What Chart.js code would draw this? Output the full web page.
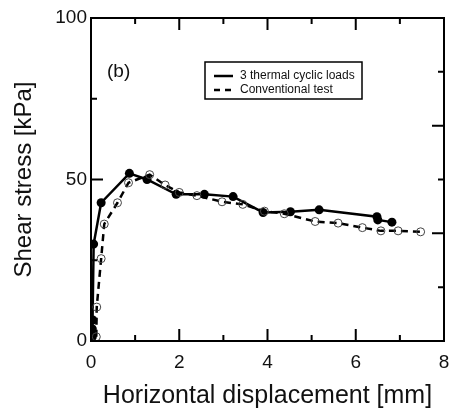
<!DOCTYPE html>
<html>
<head>
<meta charset="utf-8">
<script src="https://cdn.jsdelivr.net/npm/chart.js@4.4.1/dist/chart.umd.min.js"></script>
<style>
  html, body { margin: 0; padding: 0; background: #fff; }
  #myChart { display: block; }
</style>
</head>
<body>
<canvas id="myChart" width="452" height="410"></canvas>
<script>
// shear stress vs horizontal displacement, panel (b)
const cyclicX = [0, 0.03, 0.03, 0.04, 0.06, 0.23, 0.87, 1.27, 1.93, 2.57, 3.22, 3.9, 4.52, 5.17, 6.48, 6.5, 6.82];
const cyclicY = [0, 1.3, 3.7, 6.5, 30, 42.8, 51.9, 50, 45.4, 45.4, 44.7, 39.8, 40.0, 40.6, 38.5, 37.5, 36.8];

const convX = [0.12, 0.13, 0.23, 0.3, 0.6, 0.85, 1.33, 1.68, 2.0, 2.4, 2.97, 3.44, 3.93, 4.38, 5.08, 5.6, 6.15, 6.57, 6.96, 7.47];
const convY = [1.3, 10.5, 25.5, 36.2, 42.8, 49.0, 51.5, 48.3, 46.0, 45.0, 43.1, 42.3, 40.2, 39.4, 37.0, 36.5, 35.1, 34.1, 34.1, 33.8];

const seriesNames = ["3 thermal cyclic loads", "Conventional test"];
const xLabels = [0, 2, 4, 6, 8];     // labelled x ticks
const yLabels = [0, 50, 100];        // labelled y ticks
const xTitle = "Horizontal displacement [mm]";
const yTitle = "Shear stress [kPa]";
const panelTag = "(b)";

const FONT = "'Liberation Sans', Arial, sans-serif";

function toPoints(xs, ys) {
  let pts = [];
  for (let i = 0; i < xs.length; i++) {
    pts.push({ x: xs[i], y: ys[i] });
  }
  return pts;
}

// frame, inward ticks, titles and the boxed legend
const framePlugin = {
  id: "frame",
  afterDraw(chart) {
    const ctx = chart.ctx;
    const a = chart.chartArea;
    const sx = chart.scales.x;
    const sy = chart.scales.y;
    const sy2 = chart.scales.y2;
    ctx.save();
    ctx.strokeStyle = "#000";
    ctx.lineWidth = 2;
    ctx.strokeRect(a.left, a.top, a.right - a.left, a.bottom - a.top);

    ctx.lineWidth = 2;
    ctx.beginPath();
    sx.ticks.forEach(t => {
      const px = sx.getPixelForValue(t.value);
      const len = xLabels.includes(t.value) ? 12 : 6;
      ctx.moveTo(px, a.bottom); ctx.lineTo(px, a.bottom - len);
      ctx.moveTo(px, a.top); ctx.lineTo(px, a.top + len);
    });
    sy.ticks.forEach(t => {
      const py = sy.getPixelForValue(t.value);
      const len = yLabels.includes(t.value) ? 12 : 6;
      ctx.moveTo(a.left, py); ctx.lineTo(a.left + len, py);
    });
    sy2.ticks.forEach(t => {
      const py = sy2.getPixelForValue(t.value);
      const len = Number.isInteger(t.value) ? 12 : 6;
      ctx.moveTo(a.right, py); ctx.lineTo(a.right - len, py);
    });
    ctx.stroke();

    // axis titles
    ctx.fillStyle = "#111";
    ctx.textAlign = "center";
    ctx.textBaseline = "middle";
    ctx.font = "25px " + FONT;
    ctx.fillText(xTitle, (a.left + a.right) / 2, 396);
    ctx.save();
    ctx.translate(24, (a.top + a.bottom) / 2);
    ctx.rotate(-Math.PI / 2);
    ctx.font = "24px " + FONT;
    ctx.fillText(yTitle, 0, 0);
    ctx.restore();

    // panel tag
    ctx.textAlign = "left";
    ctx.font = "19px " + FONT;
    ctx.fillText(panelTag, 107, 72);

    // legend box
    ctx.lineWidth = 1.5;
    ctx.strokeRect(205, 62, 157, 37);
    ctx.lineWidth = 2.5;
    ctx.beginPath();
    ctx.moveTo(214, 76); ctx.lineTo(233, 76);
    ctx.stroke();
    ctx.setLineDash([6, 5]);
    ctx.beginPath();
    ctx.moveTo(214, 90); ctx.lineTo(233, 90);
    ctx.stroke();
    ctx.setLineDash([]);
    ctx.font = "12px " + FONT;
    ctx.fillText(seriesNames[0], 240, 76);
    ctx.fillText(seriesNames[1], 240, 90);
    ctx.restore();
  }
};

const data = {
  datasets: [
    {
      label: seriesNames[1],
      data: toPoints(convX, convY),
      showLine: true,
      borderColor: "#000",
      borderWidth: 2.5,
      borderDash: [7, 5],
      pointRadius: 4,
      pointBackgroundColor: "rgba(255,255,255,0)",
      pointBorderColor: "#444",
      pointBorderWidth: 1,
      tension: 0,
    },
    {
      label: seriesNames[0],
      data: toPoints(cyclicX, cyclicY),
      showLine: true,
      borderColor: "#000",
      borderWidth: 2.5,
      pointRadius: 4.5,
      pointBackgroundColor: "#000",
      pointBorderColor: "#000",
      pointBorderWidth: 0,
      tension: 0,
    },
  ],
};

const config = {
  type: "scatter",
  data: data,
  options: {
    responsive: false,
    animation: false,
    layout: { padding: 0 },
    plugins: {
      legend: { display: false },
      tooltip: { enabled: false },
    },
    scales: {
      x: {
        type: "linear",
        position: "bottom",
        min: 0,
        max: 8,
        grid: { display: false, drawTicks: false },
        border: { display: false },
        ticks: {
          stepSize: 1,
          padding: 10,
          color: "#111",
          font: { family: FONT, size: 19 },
          maxRotation: 0,
          autoSkip: false,
          callback: v => (xLabels.includes(v) ? v : ""),
        },
        afterFit: s => { s.height = 69; s.paddingLeft = 0; s.paddingRight = 0; },
      },
      x2: {
        type: "linear",
        position: "top",
        min: 0,
        max: 8,
        grid: { display: false, drawTicks: false },
        border: { display: false },
        ticks: { display: false },
        afterFit: s => { s.height = 18; s.paddingLeft = 0; s.paddingRight = 0; },
      },
      y: {
        type: "linear",
        position: "left",
        min: 0,
        max: 100,
        grid: { display: false, drawTicks: false },
        border: { display: false },
        ticks: {
          stepSize: 25,
          padding: 4,
          color: "#111",
          font: { family: FONT, size: 19 },
          autoSkip: false,
          callback: v => (yLabels.includes(v) ? v : ""),
        },
        afterFit: s => { s.width = 91; s.paddingTop = 0; s.paddingBottom = 0; },
      },
      y2: {
        type: "linear",
        position: "right",
        min: 0,
        max: 3,
        grid: { display: false, drawTicks: false },
        border: { display: false },
        ticks: { display: false, stepSize: 0.5 },
        afterFit: s => { s.width = 8; s.paddingTop = 0; s.paddingBottom = 0; },
      },
    },
  },
  plugins: [framePlugin],
};

let canvasChart = document.getElementById("myChart");
new Chart(canvasChart, config);
</script>
</body>
</html>
